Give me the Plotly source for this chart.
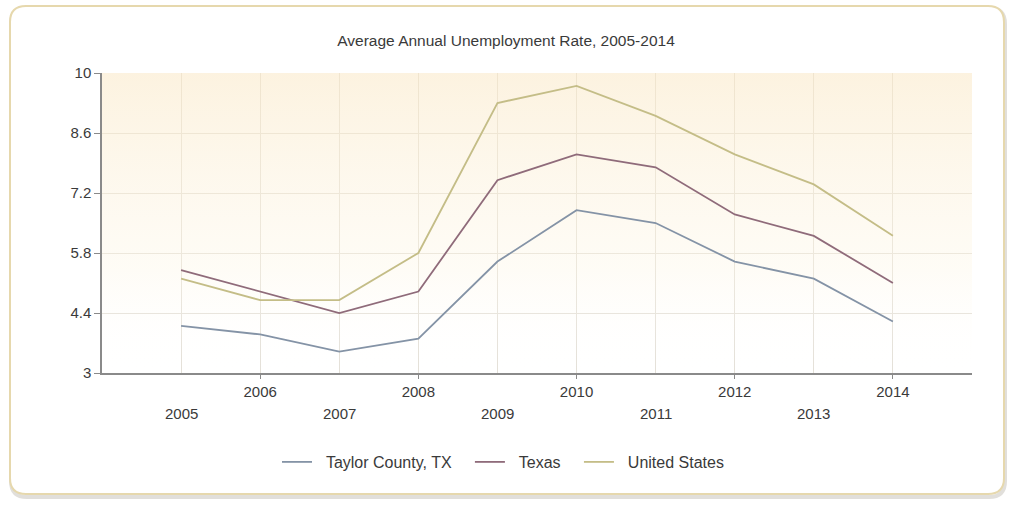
import plotly.graph_objects as go

years = [2005, 2006, 2007, 2008, 2009, 2010, 2011, 2012, 2013, 2014]
taylor = [4.1, 3.9, 3.5, 3.8, 5.6, 6.8, 6.5, 5.6, 5.2, 4.2]
texas = [5.4, 4.9, 4.4, 4.9, 7.5, 8.1, 7.8, 6.7, 6.2, 5.1]
usa = [5.2, 4.7, 4.7, 5.8, 9.3, 9.7, 9.0, 8.1, 7.4, 6.2]
series_names = ["Taylor County, TX", "Texas", "United States"]
y_ticks = [3, 4.4, 5.8, 7.2, 8.6, 10]
y_tick_text = ["3", "4.4", "5.8", "7.2", "8.6", "10"]
x_range = [2004, 2015]
y_range = [3, 10]

W, H = 1012, 506
L, R, T, B = 102, 40, 73, 133
PW, PH = W - L - R, H - T - B

FONT = "Liberation Sans, Arial, sans-serif"
TXT = "#3a3a3a"
NB = "\u00a0"

def px(x):
    return (x - L) / PW

def py(y):
    return (H - B - y) / PH

def rounded(x0, y0, x1, y1, r):
    pts = []
    pts.append(f"M {px(x0 + r)},{py(y0)}")
    pts.append(f"L {px(x1 - r)},{py(y0)}")
    pts.append(f"Q {px(x1)},{py(y0)} {px(x1)},{py(y0 + r)}")
    pts.append(f"L {px(x1)},{py(y1 - r)}")
    pts.append(f"Q {px(x1)},{py(y1)} {px(x1 - r)},{py(y1)}")
    pts.append(f"L {px(x0 + r)},{py(y1)}")
    pts.append(f"Q {px(x0)},{py(y1)} {px(x0)},{py(y1 - r)}")
    pts.append(f"L {px(x0)},{py(y0 + r)}")
    pts.append(f"Q {px(x0)},{py(y0)} {px(x0 + r)},{py(y0)} Z")
    return " ".join(pts)

fig = go.Figure()

# background gradient of the plot area
fig.add_trace(go.Scatter(
    x=[x_range[0], x_range[1], x_range[1], x_range[0], x_range[0]],
    y=[y_range[0], y_range[0], y_range[1], y_range[1], y_range[0]],
    mode="none", fill="toself",
    fillgradient=dict(type="vertical",
                      colorscale=[[0, "rgba(255,255,255,0)"], [0.35, "rgba(253,246,228,0.35)"], [1, "rgba(250,232,198,0.55)"]]),
    showlegend=False, hoverinfo="skip",
))

colors = ["#8493a6", "#8f6b7a", "#c4bd87"]
for name, vals, col in zip(series_names, [taylor, texas, usa], colors):
    fig.add_trace(go.Scatter(x=years, y=vals, name=NB * 2 + name + NB * 3, mode="lines",
                             line=dict(color=col, width=1.8)))

even_years = [y for y in years if y % 2 == 0]
odd_years = [y for y in years if y % 2 == 1]

for yr in odd_years:
    fig.add_annotation(x=yr, y=0, xref="x", yref="paper", text=str(yr),
                       showarrow=False, yanchor="middle", yshift=-40,
                       font=dict(family=FONT, size=15, color=TXT))

fig.add_shape(type="path", xref="paper", yref="paper",
              path=rounded(11, 8, 1005, 497, 16),
              line=dict(color="rgba(120,110,90,0.22)", width=4), layer="below")
fig.add_shape(type="path", xref="paper", yref="paper",
              path=rounded(10, 6, 1004, 494, 16),
              line=dict(color="#e6d8ad", width=2), fillcolor="white", layer="below")

fig.update_layout(
    width=W, height=H,
    margin=dict(l=L, r=R, t=T, b=B),
    paper_bgcolor="white", plot_bgcolor="rgba(0,0,0,0)",
    title=dict(text="Average Annual Unemployment Rate, 2005-2014",
               x=0.5, xanchor="center", y=1 - 41 / H, yanchor="middle",
               font=dict(family=FONT, size=15.5, color=TXT)),
    font=dict(family=FONT, size=15, color=TXT),
    legend=dict(orientation="h", x=px(510), xanchor="center", y=py(462), yanchor="middle",
                font=dict(family=FONT, size=16, color=TXT), itemwidth=30,
                bgcolor="rgba(0,0,0,0)"),
    showlegend=True,
    xaxis=dict(range=x_range, tickvals=years, ticktext=[str(y) if y % 2 == 0 else "" for y in years],
               ticks="", ticklabelstandoff=4, showgrid=True, gridcolor="#e4e0d8", gridwidth=1,
               showline=True, linecolor="#8a8a8a", linewidth=1.5, zeroline=False,
               minor=dict(tickvals=even_years, ticks="outside", ticklen=4, tickcolor="#8a8a8a",
                          showgrid=False),
               tickfont=dict(family=FONT, size=15, color=TXT), fixedrange=True),
    yaxis=dict(range=y_range, tickvals=y_ticks, ticktext=y_tick_text,
               ticks="outside", ticklen=6, tickcolor="#8a8a8a",
               showgrid=True, gridcolor="#e4e0d8", gridwidth=1,
               showline=True, linecolor="#8a8a8a", linewidth=1.5, zeroline=False,
               tickfont=dict(family=FONT, size=15, color=TXT), fixedrange=True),
)

fig.write_html("out.html", config={"displayModeBar": False},
               post_script="document.body.style.margin='0';")
